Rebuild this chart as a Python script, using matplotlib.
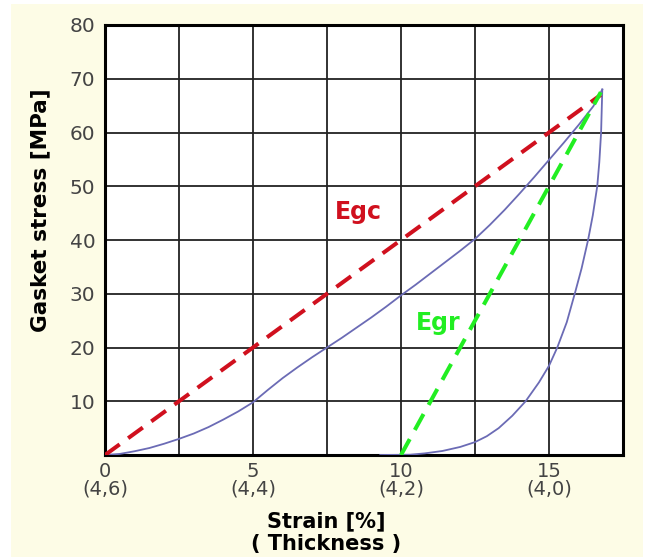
import matplotlib
matplotlib.use("Agg")
import matplotlib.pyplot as plt
from matplotlib.patches import Rectangle

# ---- data ----
load_x = [0, 0.5, 1, 1.5, 2, 2.5, 3, 3.5, 4, 4.5, 5, 5.5, 6, 6.5, 7, 7.5, 8, 8.5, 9, 9.5,
          10, 10.5, 11, 11.5, 12, 12.5, 13, 13.5, 14, 14.5, 15, 15.5, 16, 16.5, 16.8]
load_y = [0, 0.2, 0.7, 1.3, 2.1, 3.0, 4.0, 5.2, 6.6, 8.1, 9.8, 12.1, 14.3, 16.3, 18.2, 20.0,
          21.8, 23.7, 25.6, 27.6, 29.7, 31.7, 33.8, 35.9, 38.0, 40.2, 42.8, 45.6, 48.6,
          51.7, 54.9, 58.1, 61.4, 64.9, 68.0]
unload_x = [16.8, 16.78, 16.76, 16.7, 16.63, 16.48, 16.32, 16.1, 15.87, 15.6, 15.28, 15.0,
            14.66, 14.21, 13.76, 13.3, 12.9, 12.5, 12.0, 11.4, 10.8, 10.3, 9.3]
unload_y = [68.0, 64, 60, 54.5, 50, 44.6, 40, 34.7, 30, 24.7, 20, 16.6, 13.5, 10, 7.3,
            5.0, 3.5, 2.4, 1.5, 0.75, 0.3, 0.05, 0]
egc_x = [0, 16.75]
egc_y = [0, 67.0]
egr_x = [10, 16.75]
egr_y = [0, 67.5]

xticks = [0, 5, 10, 15]
xtick_labels = ["0\n(4,6)", "5\n(4,4)", "10\n(4,2)", "15\n(4,0)"]
yticks = [10, 20, 30, 40, 50, 60, 70, 80]

fig = plt.figure(figsize=(6.49, 5.57), dpi=100, facecolor="white")
fig.patches.append(Rectangle((11/649, 0), (643-11)/649, 1 - 4/557,
                             transform=fig.transFigure, facecolor="#fdfce6",
                             edgecolor="none", zorder=-10))
ax = fig.add_axes([105/649, 1 - 455/557, (623-105)/649, (455-25)/557])
ax.set_facecolor("white")

ax.set_xlim(0, 17.5)
ax.set_ylim(0, 80)
for gx in [2.5, 5, 7.5, 10, 12.5, 15]:
    ax.axvline(gx, color="#222222", lw=1.3, zorder=1)
for gy in yticks[:-1]:
    ax.axhline(gy, color="#222222", lw=1.3, zorder=1)
for s in ax.spines.values():
    s.set_linewidth(2.2)
    s.set_color("black")

ax.plot(load_x, load_y, color="#6b6bb5", lw=1.3, zorder=3)
ax.plot(unload_x, unload_y, color="#6b6bb5", lw=1.3, zorder=3)
ax.plot(egc_x, egc_y, color="#d0101e", lw=2.9, dashes=(4.5, 2.6), zorder=4)
ax.plot(egr_x, egr_y, color="#22ee22", lw=2.9, dashes=(4.5, 2.6), zorder=4)

ax.text(8.56, 45.2, "Egc", color="#d0101e", fontsize=17, fontweight="bold",
        ha="center", va="center", family="DejaVu Sans")
ax.text(11.26, 24.6, "Egr", color="#22ee22", fontsize=17, fontweight="bold",
        ha="center", va="center", family="DejaVu Sans")

ax.set_xticks(xticks)
ax.set_xticklabels(xtick_labels, fontsize=14, color="#444444", linespacing=0.92)
ax.set_yticks(yticks)
ax.set_yticklabels([str(v) for v in yticks], fontsize=14.5, color="#444444")
ax.tick_params(axis="x", length=0, pad=5)
ax.tick_params(axis="y", length=0, pad=7)

ax.set_xlabel("Strain [%]\n( Thickness )", fontsize=15, fontweight="bold",
              linespacing=1.15)
ax.xaxis.set_label_coords((326 - 105) / 518, -(533 - 455) / 430)
ax.xaxis.label.set_va("center")
ax.set_ylabel("Gasket stress [MPa]", fontsize=15.5, fontweight="bold")
ax.yaxis.set_label_coords(-(105 - 40) / 518, (455 - 210) / 430)
ax.yaxis.label.set_va("center")

fig.savefig("out.png", dpi=100)
